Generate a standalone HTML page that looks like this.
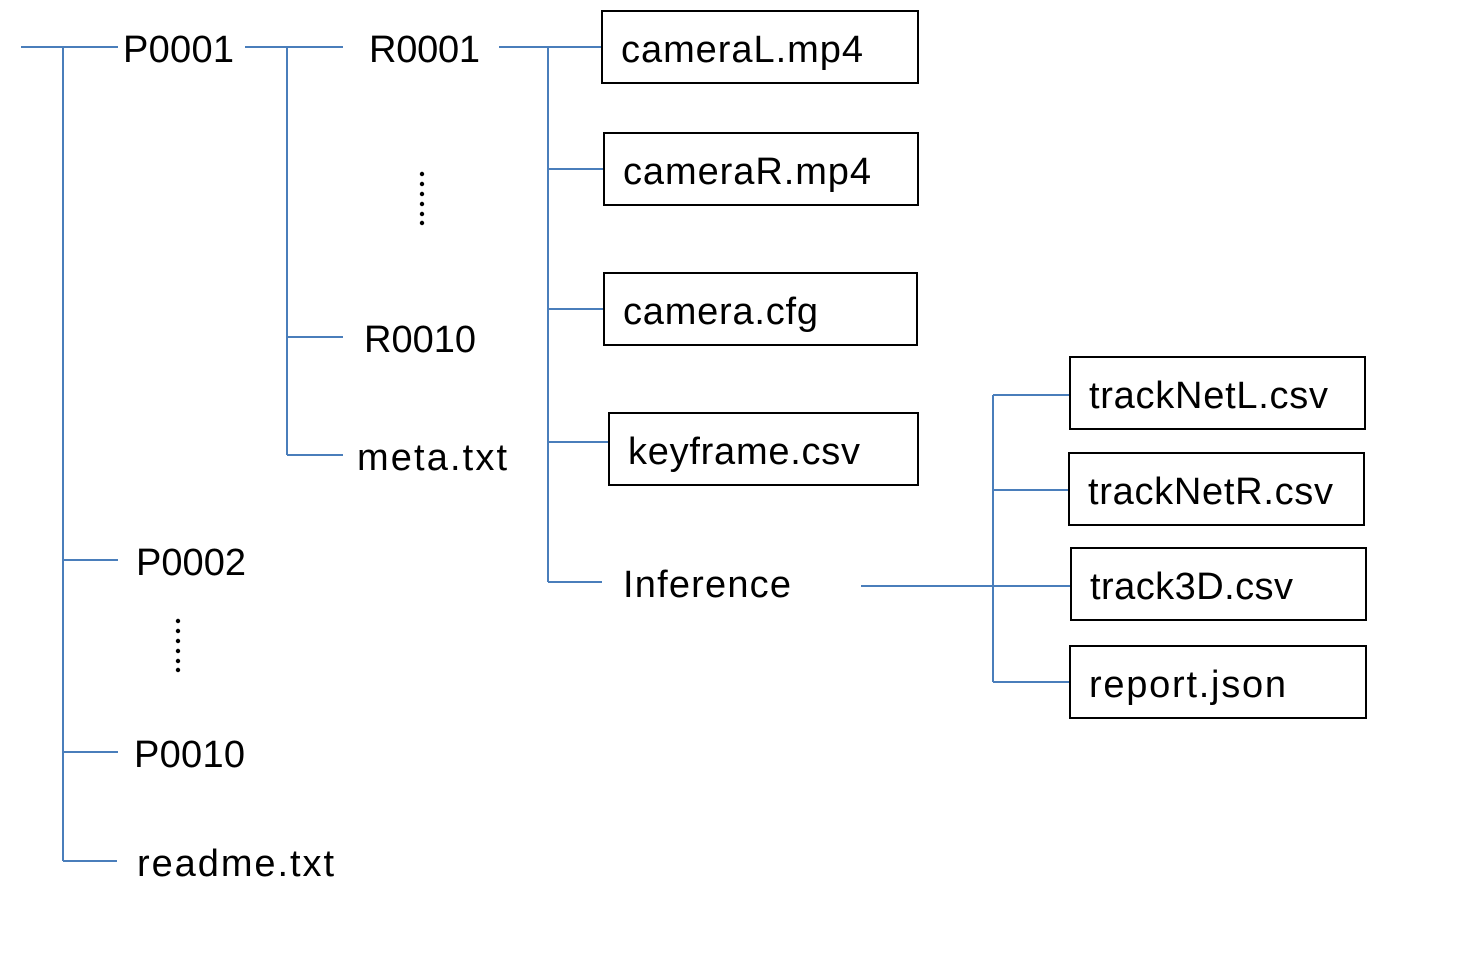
<!DOCTYPE html>
<html><head><meta charset="utf-8"><style>
html,body{margin:0;padding:0;background:#fff;}
svg text{font-family:"Liberation Sans",sans-serif;font-size:38px;fill:#000;}
</style></head><body>
<svg width="1465" height="962" viewBox="0 0 1465 962" xmlns="http://www.w3.org/2000/svg">
<g stroke="#4a7ebb" stroke-width="2" fill="none">
<path d="M21 47H118 M63 47V861 M63 560H118 M63 752H118 M63 861H117"/>
<path d="M245 47H343 M287 47V455 M287 337H343 M287 455H343"/>
<path d="M499 47H601 M548 47V582 M548 169H603 M548 309H603 M548 442H608 M548 582H602"/>
<path d="M861 586H1069 M993 395V682 M993 395H1069 M993 490H1069 M993 586H1070 M993 682H1069"/>
</g>
<g stroke="#000" stroke-width="2" fill="none">
<rect x="602" y="11" width="316" height="72"/>
<rect x="604" y="133" width="314" height="72"/>
<rect x="604" y="273" width="313" height="72"/>
<rect x="609" y="413" width="309" height="72"/>
<rect x="1070" y="357" width="295" height="72"/>
<rect x="1069" y="453" width="295" height="72"/>
<rect x="1071" y="548" width="295" height="72"/>
<rect x="1070" y="646" width="296" height="72"/>
</g>
<g fill="#000">
<circle cx="422" cy="174" r="2.2"/><circle cx="422" cy="184" r="2.2"/><circle cx="422" cy="194" r="2.2"/><circle cx="422" cy="204" r="2.2"/><circle cx="422" cy="214" r="2.2"/><circle cx="422" cy="223" r="2.2"/>
<circle cx="178" cy="621" r="2.2"/><circle cx="178" cy="631" r="2.2"/><circle cx="178" cy="641" r="2.2"/><circle cx="178" cy="651" r="2.2"/><circle cx="178" cy="661" r="2.2"/><circle cx="178" cy="670" r="2.2"/>
</g>
<text x="123" y="62" textLength="111" lengthAdjust="spacing">P0001</text>
<text x="369" y="62" textLength="111" lengthAdjust="spacing">R0001</text>
<text x="364" y="352" textLength="112" lengthAdjust="spacing">R0010</text>
<text x="357" y="470" textLength="150" lengthAdjust="spacing">meta.txt</text>
<text x="136" y="575" textLength="110" lengthAdjust="spacing">P0002</text>
<text x="134" y="767" textLength="111" lengthAdjust="spacing">P0010</text>
<text x="137" y="876" textLength="197" lengthAdjust="spacing">readme.txt</text>
<text x="621" y="62" textLength="242" lengthAdjust="spacing">cameraL.mp4</text>
<text x="623" y="184" textLength="248" lengthAdjust="spacing">cameraR.mp4</text>
<text x="623" y="324" textLength="195" lengthAdjust="spacing">camera.cfg</text>
<text x="628" y="464" textLength="232" lengthAdjust="spacing">keyframe.csv</text>
<text x="623" y="597" textLength="168" lengthAdjust="spacing">Inference</text>
<text x="1089" y="408" textLength="239" lengthAdjust="spacing">trackNetL.csv</text>
<text x="1088" y="504" textLength="245" lengthAdjust="spacing">trackNetR.csv</text>
<text x="1090" y="599" textLength="203" lengthAdjust="spacing">track3D.csv</text>
<text x="1089" y="697" textLength="197" lengthAdjust="spacing">report.json</text>
</svg>
</body></html>
